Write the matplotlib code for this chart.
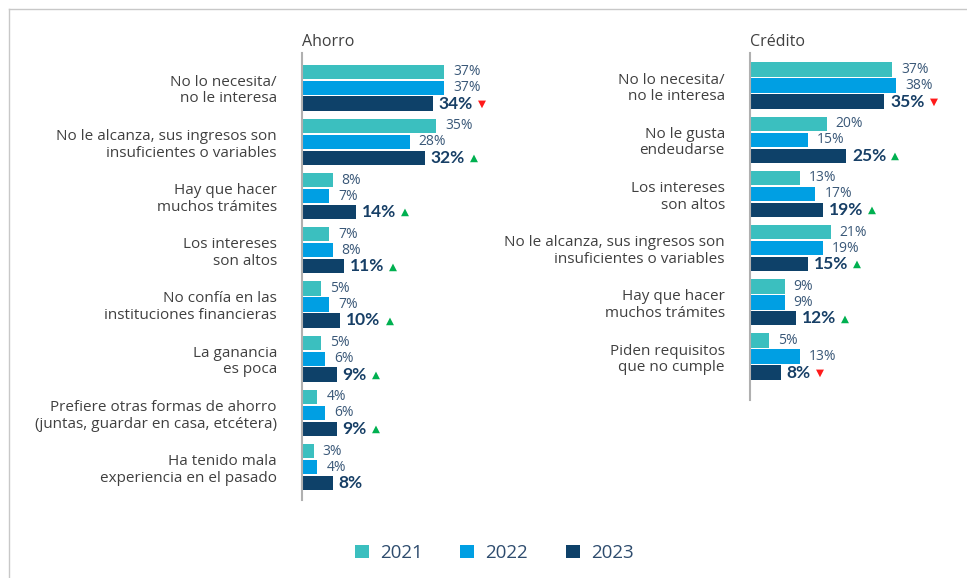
import numpy as np
import matplotlib.pyplot as plt
from matplotlib.patches import Patch
from matplotlib.lines import Line2D

plt.rcParams['font.family'] = ['Open Sans', 'DejaVu Sans']

years = ['2021', '2022', '2023']
colors = ['#3BBFBF', '#009FE3', '#0E4169']

ahorro_labels = ['No lo necesita/\nno le interesa',
                 'No le alcanza, sus ingresos son\ninsuficientes o variables',
                 'Hay que hacer\nmuchos trámites',
                 'Los intereses\nson altos',
                 'No confía en las\ninstituciones financieras',
                 'La ganancia\nes poca',
                 'Prefiere otras formas de ahorro\n(juntas, guardar en casa, etcétera)',
                 'Ha tenido mala\nexperiencia en el pasado']
ahorro_2021 = [37, 35, 8, 7, 5, 5, 4, 3]
ahorro_2022 = [37, 28, 7, 8, 7, 6, 6, 4]
ahorro_2023 = [34, 32, 14, 11, 10, 9, 9, 8]
ahorro_trend = ['down', 'up', 'up', 'up', 'up', 'up', 'up', None]

credito_labels = ['No lo necesita/\nno le interesa',
                  'No le gusta\nendeudarse',
                  'Los intereses\nson altos',
                  'No le alcanza, sus ingresos son\ninsuficientes o variables',
                  'Hay que hacer\nmuchos trámites',
                  'Piden requisitos\nque no cumple']
credito_2021 = [37, 20, 13, 21, 9, 5]
credito_2022 = [38, 15, 17, 19, 9, 13]
credito_2023 = [35, 25, 19, 15, 12, 8]
credito_trend = ['down', 'up', 'up', 'up', 'up', 'down']

W, H = 967, 578
fig = plt.figure(figsize=(W / 100, H / 100), dpi=100)

# light frame along the left and top edges
fig.add_artist(Line2D([9 / W, 9 / W], [0, 1 - 9 / H], transform=fig.transFigure,
                      color='#C8C8C8', lw=1))
fig.add_artist(Line2D([9 / W, 1], [1 - 9 / H, 1 - 9 / H], transform=fig.transFigure,
                      color='#C8C8C8', lw=1))

px_x = 3.84   # pixels per percentage point
px_y = 54.2   # pixels per category


def panel(left, top, ylim, title, labels, s21, s22, s23, trend):
    n = len(labels)
    height_px = (ylim[1] - ylim[0]) * px_y
    ax = fig.add_axes([left / W, 1 - (top + height_px) / H, 40 * px_x / W, height_px / H])
    y = np.arange(n)
    off = 0.295
    bh = 0.265
    for k, vals in enumerate([s21, s22, s23]):
        ax.barh(y + (k - 1) * off, vals, height=bh, color=colors[k])
    for i in range(n):
        ax.annotate(f'{s21[i]}%', (s21[i], y[i] - off), xytext=(6.5, 0),
                    textcoords='offset points', va='center', ha='left',
                    fontsize=10, color='#3A5878')
        ax.annotate(f'{s22[i]}%', (s22[i], y[i]), xytext=(6.5, 0),
                    textcoords='offset points', va='center', ha='left',
                    fontsize=10, color='#3A5878')
        t = ax.annotate(f'{s23[i]}%', (s23[i], y[i] + off), xytext=(4.3, 0),
                        textcoords='offset points', va='center', ha='left',
                        fontsize=12.5, fontweight='bold', color='#173F66',
                        family=['Lato', 'DejaVu Sans'])
        if trend[i] == 'up':
            ax.annotate('▲', xy=(1, 0.5), xycoords=t, xytext=(3.5, 0),
                        textcoords='offset points', va='center', ha='left',
                        fontsize=7.5, color='#00B050', family='DejaVu Sans')
        elif trend[i] == 'down':
            ax.annotate('▼', xy=(1, 0.5), xycoords=t, xytext=(3.5, 0),
                        textcoords='offset points', va='center', ha='left',
                        fontsize=7.5, color='#FF1A1A', family='DejaVu Sans')
    ax.set_xlim(0, 40)
    ax.set_ylim(ylim[1], ylim[0])
    ax.set_yticks(y)
    ax.set_yticklabels(labels, fontsize=11, color='#404040', linespacing=1.15)
    ax.tick_params(axis='y', length=0, pad=18)
    ax.set_xticks([])
    for s in ['top', 'right', 'bottom']:
        ax.spines[s].set_visible(False)
    ax.spines['left'].set_color('#B0B0B0')
    ax.spines['left'].set_linewidth(1.5)
    fig.text(left / W, 1 - 42 / H, title, fontsize=11.5, color='#404040',
             ha='left', va='center')
    return ax


panel(302, 53, (-0.64, 7.61), 'Ahorro', ahorro_labels,
      ahorro_2021, ahorro_2022, ahorro_2023, ahorro_trend)
panel(750, 53, (-0.6, 5.8), 'Crédito', credito_labels,
      credito_2021, credito_2022, credito_2023, credito_trend)

handles = [Patch(facecolor=c, edgecolor='none') for c in colors]
fig.legend(handles, years, loc='center', bbox_to_anchor=(0.511, 1 - 553 / H),
           ncol=3, frameon=False, fontsize=13.5, handlelength=0.75, handleheight=0.75,
           handletextpad=0.6, columnspacing=2.0, labelcolor='#2E4C6E')

fig.savefig('out.png', dpi=100)
